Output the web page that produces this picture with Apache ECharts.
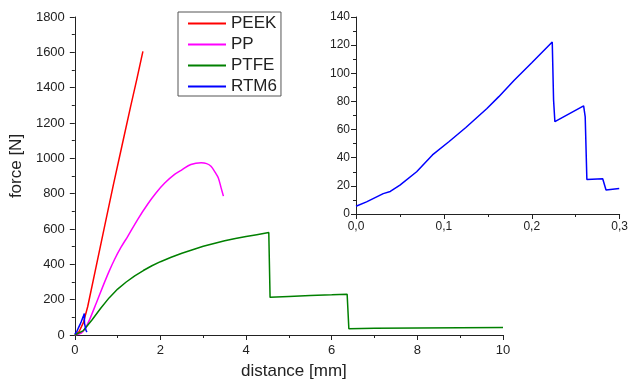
<!DOCTYPE html>
<html>
<head>
<meta charset="utf-8">
<script src="https://cdn.jsdelivr.net/npm/echarts@6/dist/echarts.min.js"></script>
<style>
html,body{margin:0;padding:0;background:#fff;}
#c{width:631px;height:385px;}
</style>
</head>
<body>
<div id="c"></div>
<script>
// Data (distance [mm], force [N])
var seriesNames = ['PEEK', 'PP', 'PTFE', 'RTM6'];
var peek = [[0,0],[0.1,20],[0.2,70],[0.3,160],[0.5,390],[0.7,620],[0.9,850],[1.1,1070],[1.3,1290],[1.45,1450],[1.59,1605]];
var pp = [[0,0],[0.15,10],[0.25,40],[0.35,90],[0.5,180],[0.66,278],[0.8,360],[0.93,429],[1.08,497],[1.24,560],[1.47,655],[1.7,740],[1.9,805],[2.1,860],[2.33,909],[2.5,935],[2.71,965],[2.95,975],[3.08,970],[3.18,955],[3.28,920],[3.35,890],[3.42,830],[3.47,786]];
var ptfe = [[0,0],[0.2,25],[0.4,85],[0.6,150],[0.8,210],[1.0,260],[1.2,300],[1.4,335],[1.6,365],[1.8,392],[2.0,415],[2.25,440],[2.5,463],[2.75,483],[3.0,502],[3.25,518],[3.5,533],[3.75,546],[4.0,557],[4.25,568],[4.53,580],[4.56,213],[5.0,218],[5.5,224],[6.0,228],[6.36,231],[6.40,36],[7,38],[8,40],[9,41],[10,42]];
var rtm6 = [[0,5.5],[0.012,8.6],[0.031,14.5],[0.039,16],[0.05,20.5],[0.069,30],[0.087,42],[0.106,51.5],[0.125,61.5],[0.149,75],[0.1625,83.4],[0.18,95],[0.2,107.5],[0.2233,122.2],[0.2248,81],[0.2263,65.6],[0.259,76.8],[0.2608,69],[0.2627,24.5],[0.2807,25],[0.2845,17],[0.2995,18.2]];
var colors = ['#ff0000', '#ff00ff', '#008000', '#0000ff'];
var mainX = {min: 0, max: 10, interval: 2, name: 'distance [mm]'};
var mainY = {min: 0, max: 1800, interval: 200, name: 'force [N]'};
var insetX = {min: 0, max: 0.3, interval: 0.1};
var insetY = {min: 0, max: 140, interval: 20};

var font = 'Liberation Sans, Arial, sans-serif';
function plain(v) { return String(Math.round(v)); }
function axisBase(fs, margin) {
  return {
    type: 'value',
    axisLine: {show: true, lineStyle: {color: '#222', width: 1}},
    axisTick: {show: true, inside: false, length: 5, lineStyle: {color: '#222'}},
    minorTick: {show: true, splitNumber: 2, length: 3, lineStyle: {color: '#222'}},
    splitLine: {show: false},
    axisLabel: {fontSize: fs, color: '#222', fontFamily: font, margin: margin, formatter: plain}
  };
}
function ax(base, extra) { return Object.assign(base, extra); }

var chart = echarts.init(document.getElementById('c'), null, {renderer: 'canvas'});
var option = {
  backgroundColor: '#fff',
  animation: false,
  grid: [
    {left: 73, top: 17, width: 430, height: 319},
    {left: 356, top: 17, width: 266, height: 197}
  ],
  legend: {
    data: seriesNames,
    orient: 'vertical',
    left: 178, top: 12,
    itemWidth: 38, itemHeight: 14, itemGap: 4,
    padding: [3, 4, 1, 9],
    borderColor: '#555', borderWidth: 1,
    itemStyle: {opacity: 0},
    textStyle: {fontSize: 17, color: '#222', fontFamily: font}
  },
  xAxis: [
    ax(axisBase(13, 9), {gridIndex: 0, min: mainX.min, max: mainX.max, interval: mainX.interval,
      name: mainX.name, nameLocation: 'middle', nameGap: 28,
      nameTextStyle: {fontSize: 17, color: '#222', fontFamily: font, padding: [0,0,0,10]}}),
    ax(axisBase(12, 7), {gridIndex: 1, min: insetX.min, max: insetX.max, interval: insetX.interval,
      axisLabel: {fontSize: 12, color: '#222', fontFamily: font, margin: 7,
        formatter: function (v) { return v.toFixed(1).replace('.', ','); }}})
  ],
  yAxis: [
    ax(axisBase(13, 10), {gridIndex: 0, min: mainY.min, max: mainY.max, interval: mainY.interval,
      name: mainY.name, nameLocation: 'middle', nameGap: 44,
      nameTextStyle: {fontSize: 17, color: '#222', fontFamily: font, padding: [0,0,0,20]}}),
    ax(axisBase(12, 6), {gridIndex: 1, min: insetY.min, max: insetY.max, interval: insetY.interval})
  ],
  series: [
    {name: 'PEEK', type: 'line', xAxisIndex: 0, yAxisIndex: 0, data: peek, symbol: 'none', lineStyle: {width: 1.5, color: colors[0]}, itemStyle: {color: colors[0]}},
    {name: 'PP', type: 'line', xAxisIndex: 0, yAxisIndex: 0, data: pp, symbol: 'none', smooth: 0.3, lineStyle: {width: 1.5, color: colors[1]}, itemStyle: {color: colors[1]}},
    {name: 'PTFE', type: 'line', xAxisIndex: 0, yAxisIndex: 0, data: ptfe, symbol: 'none', lineStyle: {width: 1.5, color: colors[2]}, itemStyle: {color: colors[2]}},
    {name: 'RTM6', type: 'line', xAxisIndex: 0, yAxisIndex: 0, data: rtm6, symbol: 'none', lineStyle: {width: 1.5, color: colors[3]}, itemStyle: {color: colors[3]}},
    {name: 'RTM6', type: 'line', xAxisIndex: 1, yAxisIndex: 1, data: rtm6, symbol: 'none', lineStyle: {width: 1.5, color: colors[3]}, itemStyle: {color: colors[3]}}
  ]
};
chart.setOption(option);
</script>
</body>
</html>
